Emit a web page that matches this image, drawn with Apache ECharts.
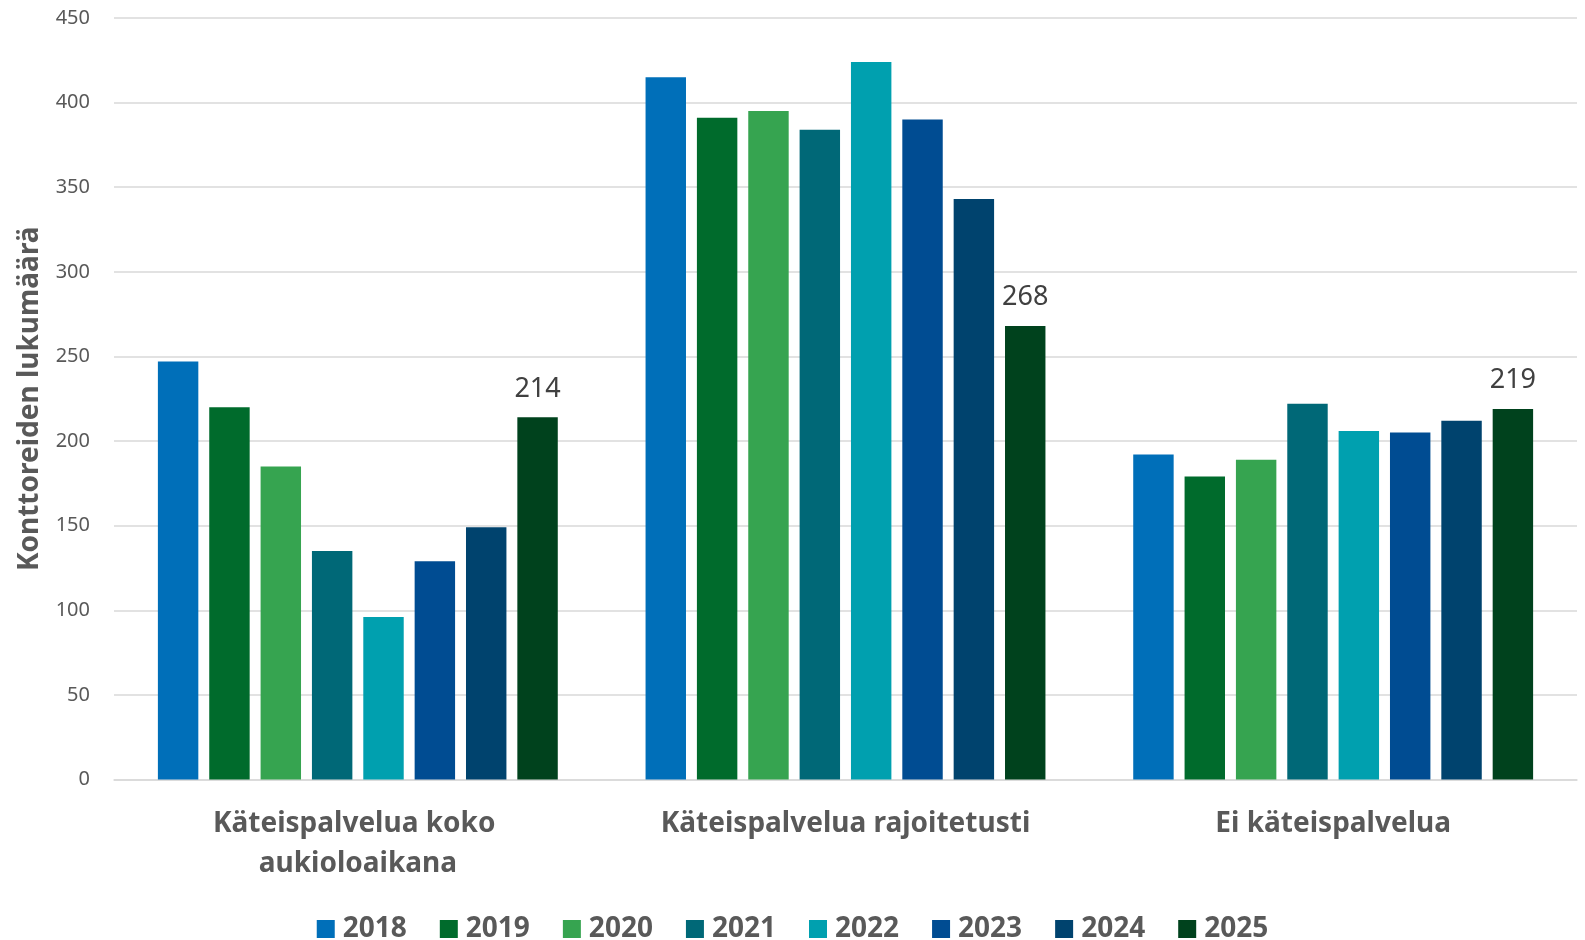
<!DOCTYPE html>
<html>
<head>
<meta charset="utf-8">
<script src="https://cdn.jsdelivr.net/npm/echarts@6/dist/echarts.min.js"></script>
<style>
html,body{margin:0;padding:0;background:#fff;}
#c{width:1585px;height:940px;}
</style>
</head>
<body>
<div id="c"></div>
<script>
const categories = ['Käteispalvelua koko aukioloaikana', 'Käteispalvelua rajoitetusti', 'Ei käteispalvelua'];
const years = ['2018', '2019', '2020', '2021', '2022', '2023', '2024', '2025'];
const v2018 = [247, 415, 192];
const v2019 = [220, 391, 179];
const v2020 = [185, 395, 189];
const v2021 = [135, 384, 222];
const v2022 = [96, 424, 206];
const v2023 = [129, 390, 205];
const v2024 = [149, 343, 212];
const v2025 = [214, 268, 219];
const yTicks = [0, 50, 100, 150, 200, 250, 300, 350, 400, 450];
const yTitle = 'Konttoreiden lukumäärä';

const values = [v2018, v2019, v2020, v2021, v2022, v2023, v2024, v2025];
const colors = ['#006FB9', '#006B2C', '#36A450', '#006877', '#00A0AF', '#004C92', '#00436E', '#00421D'];
const FONT = '"Noto Sans", sans-serif';

const series = years.map((y, i) => ({
  name: y,
  type: 'bar',
  data: values[i],
  barGap: '27%',
  barCategoryGap: '18%',
  itemStyle: { color: colors[i] },
  label: i === years.length - 1 ? {
    show: true, position: 'top', distance: 15,
    fontFamily: FONT, fontSize: 27, color: '#404040'
  } : { show: false },
  emphasis: { disabled: true }
}));

const chart = echarts.init(document.getElementById('c'), null, { renderer: 'canvas' });
chart.setOption({
  animation: false,
  backgroundColor: '#ffffff',
  textStyle: { fontFamily: FONT },
  grid: { left: 114, right: 8, top: 18, bottom: 160.5, containLabel: false },
  legend: {
    data: years,
    top: 910,
    left: 'center',
    itemWidth: 18,
    itemHeight: 18,
    itemGap: 33,
    icon: 'rect',
    textStyle: { fontFamily: FONT, fontSize: 28, fontWeight: 'bold', color: '#595959', padding: [0, 0, 0, 3] }
  },
  xAxis: {
    type: 'category',
    data: categories,
    axisLine: { show: true, lineStyle: { color: '#d9d9d9', width: 1.5 } },
    axisTick: { show: false },
    axisLabel: {
      interval: 0,
      margin: 25,
      width: 440,
      overflow: 'break',
      lineHeight: 40,
      fontFamily: FONT, fontSize: 28, fontWeight: 'bold', color: '#595959'
    }
  },
  yAxis: {
    type: 'value',
    min: yTicks[0],
    max: yTicks[yTicks.length - 1],
    interval: 50,
    name: yTitle,
    nameLocation: 'middle',
    nameGap: 70,
    nameTextStyle: { fontFamily: FONT, fontSize: 28, fontWeight: 'bold', color: '#595959' },
    axisLine: { show: false },
    axisTick: { show: false },
    axisLabel: { margin: 24, fontFamily: FONT, fontSize: 20, color: '#595959' },
    splitLine: { show: true, lineStyle: { color: '#d9d9d9', width: 1.5 } }
  },
  series: series
});
</script>
</body>
</html>
